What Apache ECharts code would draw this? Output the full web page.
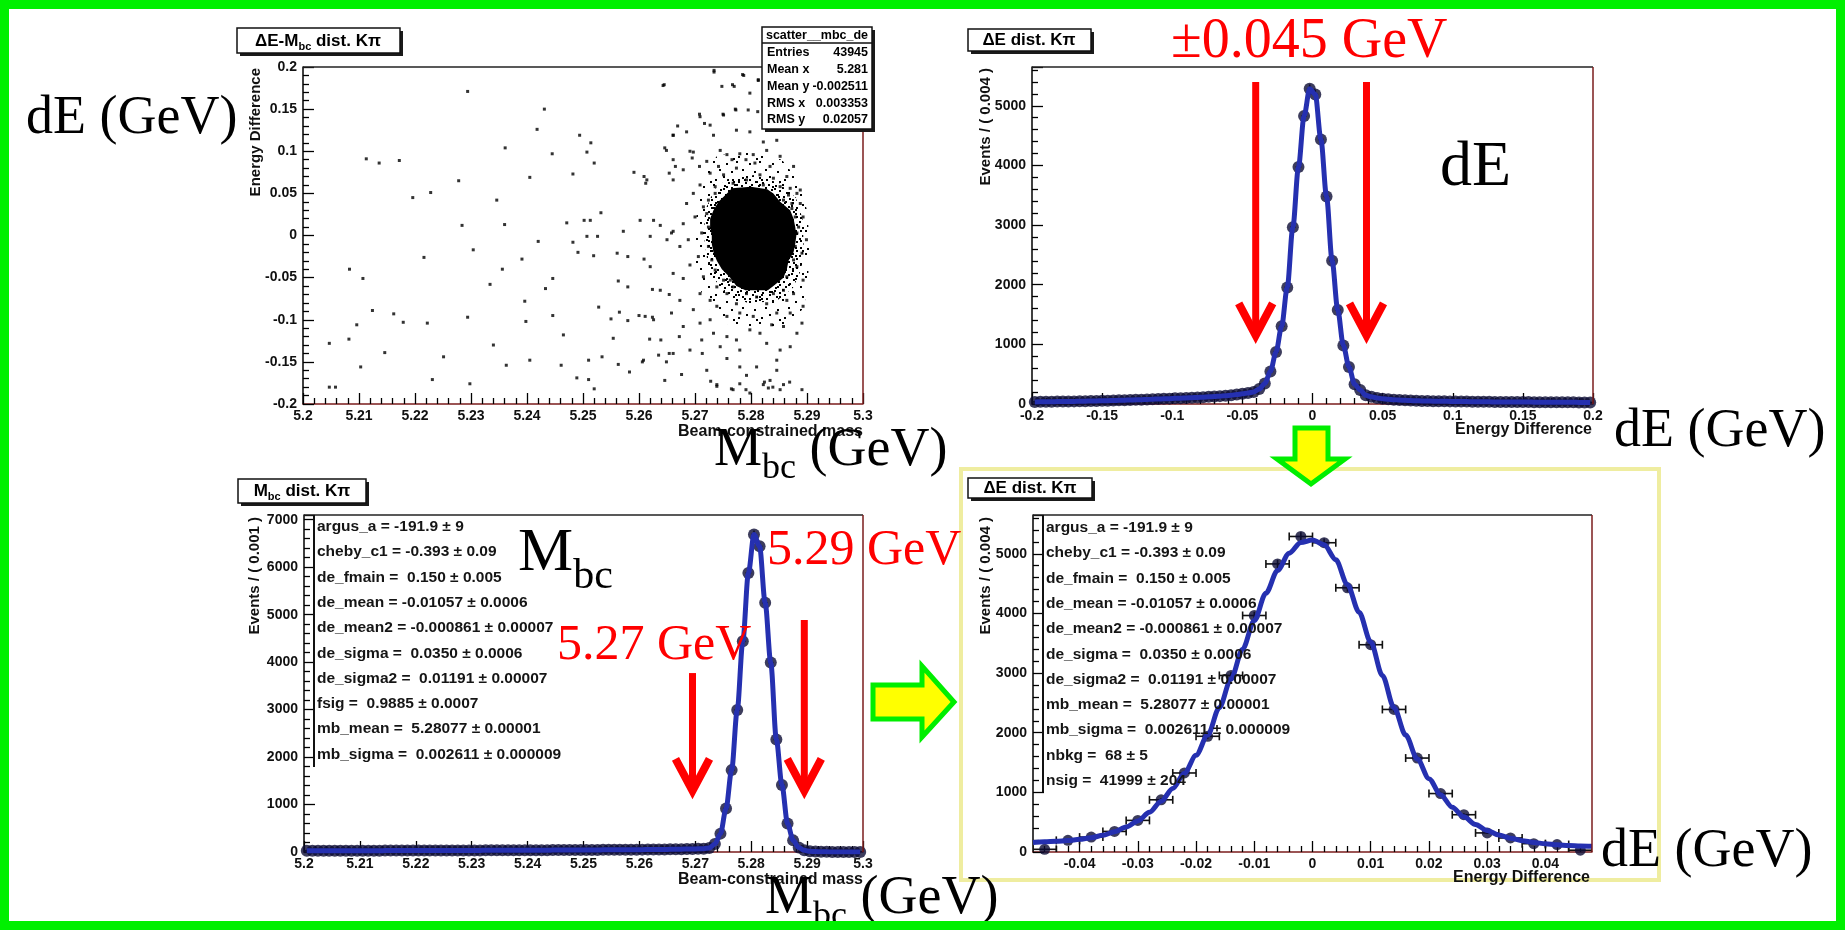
<!DOCTYPE html>
<html>
<head>
<meta charset="utf-8">
<title>dE / Mbc</title>
<script src="https://cdn.jsdelivr.net/npm/echarts@6.0.0/dist/echarts.min.js"></script>
<style>
  html, body { margin: 0; padding: 0; background: #fff; }
  #chart { width: 1845px; height: 930px; }
</style>
</head>
<body>
<div id="chart"></div>
<script>
// ---- data ----

// scatter dE vs Mbc: sparse background dots
const scatterSparse = [
  [5.2294,0.171],[5.2643,0.178],[5.2734,0.196],[5.2785,0.191],[5.2813,0.184],[5.2839,0.183],[5.2767,0.179],
  [5.2431,0.150],[5.2418,0.126],[5.2750,0.144],[5.2795,0.149],[5.2708,0.144],[5.2772,0.150],
  [5.2113,0.091],[5.2136,0.086],[5.2172,0.089],[5.2361,0.104],[5.2445,0.097],[5.2494,0.119],[5.2507,0.099],[5.2514,0.110],[5.2520,0.086],
  [5.2646,0.104],[5.2661,0.119],[5.2669,0.130],[5.2691,0.100],[5.2695,0.092],[5.2708,0.082],
  [5.2405,0.069],[5.2278,0.065],[5.2482,0.073],[5.2591,0.075],[5.2609,0.070],[5.2612,0.062],[5.2654,0.074],[5.2665,0.082],
  [5.2196,0.045],[5.2228,0.051],[5.2346,0.042],[5.2532,0.027],[5.2513,0.018],[5.2284,0.012],[5.2360,0.013],[5.2471,0.015],[5.2502,0.018],
  [5.2420,-0.007],[5.2482,-0.008],[5.2507,-0.001],[5.2526,-0.001],[5.2572,0.005],[5.2602,0.018],[5.2620,-0.001],[5.2650,-0.005],[5.2661,0.005],
  [5.2216,-0.026],[5.2304,-0.017],[5.2356,-0.040],[5.2391,-0.028],[5.2491,-0.020],[5.2519,-0.024],[5.2561,-0.021],[5.2580,-0.025],[5.2609,-0.028],
  [5.2083,-0.040],[5.2107,-0.051],[5.2334,-0.058],[5.2446,-0.051],[5.2433,-0.063],[5.2563,-0.054],[5.2580,-0.061],[5.2624,-0.064],[5.2654,-0.070],
  [5.2396,-0.078],[5.2124,-0.089],[5.2162,-0.093],[5.2096,-0.106],[5.2179,-0.103],[5.2294,-0.097],[5.2222,-0.104],[5.2398,-0.102],[5.2446,-0.095],
  [5.2528,-0.085],[5.2550,-0.099],[5.2565,-0.091],[5.2580,-0.101],[5.2600,-0.095],[5.2624,-0.097],
  [5.2047,-0.128],[5.2082,-0.123],[5.2340,-0.130],[5.2465,-0.118],[5.2554,-0.122],[5.2619,-0.123],[5.2639,-0.124],[5.2672,-0.120],
  [5.2146,-0.139],[5.2103,-0.156],[5.2251,-0.144],[5.2363,-0.154],[5.2405,-0.148],[5.2461,-0.154],[5.2510,-0.148],[5.2534,-0.144],[5.2563,-0.153],
  [5.2583,-0.162],[5.2606,-0.150],[5.2635,-0.142],[5.2654,-0.140],[5.2676,-0.165],[5.2713,-0.140],
  [5.2047,-0.180],[5.2058,-0.180],[5.2231,-0.171],[5.2298,-0.176],[5.2489,-0.169],[5.2510,-0.171],[5.2520,-0.182],[5.2646,-0.172],
  [5.2728,-0.173],[5.2739,-0.177],[5.2765,-0.182],[5.2780,-0.176],[5.2791,-0.183],[5.2824,-0.174],[5.2839,-0.180],[5.2858,-0.177],[5.2891,-0.183],[5.2869,-0.174]
];

// dots around the signal blob
const scatterHalo = [
  [5.2734,0.194],[5.2787,0.190],[5.2813,0.185],[5.2645,0.179],[5.2748,0.177],[5.2770,0.177],[5.2828,0.167],[5.2798,0.169],
  [5.2773,0.149],[5.2812,0.147],[5.2709,0.141],[5.2751,0.143],[5.2717,0.133],[5.2727,0.131],[5.2685,0.123],[5.2733,0.119],
  [5.2774,0.125],[5.2798,0.123],[5.2822,0.111],[5.2661,0.119],[5.2846,0.113],[5.2649,0.101],[5.2697,0.099],[5.2745,0.101],
  [5.2757,0.096],[5.2780,0.097],[5.2804,0.096],[5.2828,0.101],[5.2852,0.094],[5.2661,0.090],[5.2679,0.078],[5.2721,0.088],
  [5.2742,0.082],[5.2766,0.090],[5.2791,0.090],[5.2807,0.086],[5.2834,0.082],[5.2876,0.082],[5.2727,0.074],[5.2751,0.072],
  [5.2774,0.080],[5.2816,0.072],[5.2840,0.068],[5.2864,0.070],[5.2709,0.060],[5.2736,0.058],[5.2768,0.062],[5.2792,0.066],
  [5.2822,0.060],[5.2852,0.058],[5.2870,0.056],[5.2888,0.054],[5.2614,0.066],[5.2661,0.066],[5.2626,0.018],[5.2620,-0.037],
  [5.2611,-0.096],[5.2608,-0.148],[5.2697,0.050],[5.2685,0.038],[5.2715,0.034],[5.2700,0.022],[5.2679,0.014],[5.2658,0.003],
  [5.2688,-0.005],[5.2712,0.003],[5.2638,0.012],[5.2673,-0.013],[5.2706,-0.025],[5.2691,-0.035],[5.2661,-0.045],[5.2715,-0.049],
  [5.2679,-0.051],[5.2638,-0.065],[5.2709,-0.069],[5.2673,-0.077],[5.2727,-0.077],[5.2697,-0.088],[5.2739,-0.084],[5.2658,-0.092],
  [5.2626,-0.100],[5.2709,-0.104],[5.2679,-0.108],[5.2727,-0.100],[5.2757,-0.096],[5.2712,-0.124],[5.2691,-0.136],[5.2733,-0.116],
  [5.2745,-0.132],[5.2661,-0.140],[5.2649,-0.150],[5.2757,-0.146],[5.2721,-0.160],[5.2780,-0.156],[5.2792,-0.166],[5.2810,-0.156],
  [5.2834,-0.172],[5.2846,-0.160],[5.2846,-0.148],[5.2870,-0.132],[5.2882,-0.116],[5.2858,-0.108],[5.2837,-0.106],[5.2816,-0.116],
  [5.2798,-0.112],[5.2774,-0.124],[5.2828,-0.128],[5.2852,-0.136],[5.2780,-0.136],[5.2757,-0.120],[5.2888,0.038],[5.2893,0.022],
  [5.2885,0.010],[5.2899,-0.005],[5.2891,-0.021],[5.2882,-0.037],[5.2893,-0.053],[5.2876,-0.069],[5.2893,-0.084],[5.2870,-0.092],
  [5.2891,-0.104],[5.2864,-0.077],[5.2858,-0.065],[5.2840,-0.069],[5.2828,-0.081],[5.2810,-0.073],[5.2792,-0.069],[5.2774,-0.081],
  [5.2757,-0.069],[5.2780,-0.092],[5.2804,-0.096],[5.2846,-0.092],[5.2739,-0.061],[5.2763,-0.053],[5.2864,-0.049],[5.2873,0.038],
  [5.2882,0.050],[5.2867,0.048],[5.2858,0.042],[5.2736,0.050],[5.2724,0.042],[5.2721,0.026],[5.2724,0.010],[5.2724,-0.013],
  [5.2730,-0.029],[5.2736,-0.041],[5.2751,-0.053],[5.2768,-0.061],[5.2789,-0.057],[5.2819,-0.061],[5.2840,-0.057],[5.2855,-0.041],
  [5.2876,-0.029],[5.2879,-0.013],[5.2882,0.003],[5.2879,0.022],[5.2873,0.032],[5.2739,-0.179],[5.2768,-0.183],[5.2798,-0.187],
  [5.2822,-0.177],[5.2831,-0.181],[5.2852,-0.183]
];

// outline of the saturated black core
const scatterCore = [
  [5.2766,0.056],[5.2800,0.058],[5.2829,0.055],[5.2840,0.050],[5.2852,0.040],[5.2870,0.030],[5.2876,0.020],[5.2879,0.010],
  [5.2881,0.000],[5.2879,-0.010],[5.2876,-0.020],[5.2867,-0.030],[5.2864,-0.040],[5.2858,-0.050],[5.2840,-0.060],[5.2830,-0.065],
  [5.2790,-0.065],[5.2774,-0.060],[5.2763,-0.050],[5.2748,-0.040],[5.2739,-0.030],[5.2733,-0.020],[5.2730,-0.010],[5.2730,0.000],
  [5.2727,0.010],[5.2727,0.020],[5.2733,0.030],[5.2742,0.040],[5.2757,0.050]
];
// dense dotted ring around the core
const scatterDenseRing = [
  [5.2760,0.068],[5.2810,0.072],[5.2850,0.062],[5.2880,0.045],[5.2892,0.020],[5.2894,-0.010],[5.2890,-0.040],[5.2875,-0.062],
  [5.2845,-0.078],[5.2795,-0.080],[5.2760,-0.072],[5.2738,-0.055],[5.2722,-0.030],[5.2716,0.000],[5.2718,0.030],[5.2735,0.055]
];
// looser dotted halo
const scatterOuterRing = [
  [5.2740,0.095],[5.2800,0.100],[5.2855,0.090],[5.2885,0.065],[5.2900,0.030],[5.2905,-0.010],[5.2902,-0.050],[5.2895,-0.085],
  [5.2870,-0.105],[5.2820,-0.112],[5.2765,-0.108],[5.2730,-0.092],[5.2710,-0.065],[5.2700,-0.030],[5.2700,0.010],[5.2708,0.050],[5.2720,0.078]
];

// dE histogram, 100 bins of 0.004 from -0.2
const DE_BIN_START = -0.2, DE_BIN_WIDTH = 0.004;
const deHist = [
  35,36,38,38,40,41,42,44,46,47,
  50,52,54,56,58,62,64,66,70,72,
  75,80,84,87,90,95,98,102,106,110,
  115,120,126,132,140,148,158,170,185,200,
  250,345,545,872,1305,1955,2965,3975,4830,5285,
  5190,4435,3480,2400,1575,980,622,330,235,145,
  120,100,88,80,72,66,62,58,55,52,
  50,48,46,45,44,42,41,40,39,38,
  37,36,35,35,34,33,33,32,32,31,
  31,30,30,29,29,28,28,27,27,26
];

// Mbc histogram, 100 bins of 0.001 from 5.2
const MBC_BIN_START = 5.2, MBC_BIN_WIDTH = 0.001;
const mbcHist = [
  24,24,25,25,25,26,26,26,27,27,
  27,28,28,28,29,29,29,30,30,30,
  31,31,31,32,32,32,33,33,33,34,
  34,34,35,35,35,36,36,37,37,37,
  38,38,39,39,40,40,41,41,42,42,
  43,43,44,45,45,46,47,47,48,49,
  50,51,52,53,54,56,58,60,62,64,
  66,70,85,170,387,915,1725,2990,4440,5880,
  6690,6440,5250,3990,2370,1410,600,245,95,35,
  14,8,5,3,2,1,1,0,0,0
];

// dE after the Mbc cut, 24 bins of 0.004 from -0.048
const DEZ_BIN_START = -0.048, DEZ_BIN_WIDTH = 0.004;
const deZoomHist = [45,195,250,345,530,875,1325,1940,2960,3965,4830,5290,5185,4430,3475,2390,1575,980,625,320,235,140,125,30];
// fit curve, sampled every 0.002 from -0.048
const DEZ_FIT_START = -0.048, DEZ_FIT_STEP = 0.002;
const deZoomFit = [
  160,170,180,192,212,240,280,340,420,520,665,850,1065,1320,1620,1960,2420,2900,3400,3880,4340,4720,5010,5190,5230,
  5150,4900,4480,4020,3520,2960,2420,1960,1560,1230,960,750,590,460,360,285,230,190,160,138,120,108,100,95
];

// tick labels of the zoomed dE axis
const deZoomTicks = [-0.04,-0.03,-0.02,-0.01,0,0.01,0.02,0.03,0.04];
const deZoomMinorTicks = [-0.046,-0.044,-0.042,-0.038,-0.036,-0.034,-0.032,-0.028,-0.026,-0.024,-0.022,-0.018,-0.016,-0.014,-0.012,
  -0.008,-0.006,-0.004,-0.002,0.002,0.004,0.006,0.008,0.012,0.014,0.016,0.018,0.022,0.024,0.026,0.028,0.032,0.034,0.036,0.038,0.042,0.044,0.046];

// cut arrows: [x, top value, tip value]
const deCutArrows = [[-0.0405, 5400, 1150], [0.0385, 5400, 1150]];
const mbcCutArrows = [[5.2695, 3770, 1290], [5.2895, 4890, 1290]];

const statsRows = [['Entries','43945'],['Mean x','5.281'],['Mean y','-0.002511'],['RMS x','0.003353'],['RMS y','0.02057']];
const paramsMbc = [
  'argus_a = -191.9 ± 9','cheby_c1 = -0.393 ± 0.09','de_fmain =  0.150 ± 0.005','de_mean = -0.01057 ± 0.0006',
  'de_mean2 = -0.000861 ± 0.00007','de_sigma =  0.0350 ± 0.0006','de_sigma2 =  0.01191 ± 0.00007','fsig =  0.9885 ± 0.0007',
  'mb_mean =  5.28077 ± 0.00001','mb_sigma =  0.002611 ± 0.000009'
];
const paramsDe = [
  'argus_a = -191.9 ± 9','cheby_c1 = -0.393 ± 0.09','de_fmain =  0.150 ± 0.005','de_mean = -0.01057 ± 0.0006',
  'de_mean2 = -0.000861 ± 0.00007','de_sigma =  0.0350 ± 0.0006','de_sigma2 =  0.01191 ± 0.00007',
  'mb_mean =  5.28077 ± 0.00001','mb_sigma =  0.002611 ± 0.000009','nbkg =  68 ± 5','nsig =  41999 ± 204'
];

// ---- layout / style ----
const SANS = '"Liberation Sans", Arial, sans-serif';
const SERIF = '"Liberation Serif", "Times New Roman", serif';
const MAROON = '#7b1d1d';
const FIT_BLUE = '#2530b0';
const MARKER = '#0d0d35';

const grids = [
  { left: 303, top: 67, width: 560, height: 337 },
  { left: 1032, top: 67, width: 561, height: 337 },
  { left: 304, top: 515, width: 559, height: 337 },
  { left: 1033, top: 515, width: 559, height: 337 }
];

function fmt(v) { return String(+Number(v).toFixed(5)); }

const tickLine = { color: '#000', width: 1.3 };
const labelStyle = { color: '#111', fontFamily: SANS, fontWeight: 'bold', fontSize: 14 };

function xAxisCfg(gi, min, max, interval) {
  return {
    type: 'value', gridIndex: gi, min: min, max: max, interval: interval, position: 'bottom',
    axisLine: { show: true, onZero: false, lineStyle: { color: MAROON, width: 1.5 } },
    axisTick: { show: true, inside: true, length: 11, lineStyle: tickLine },
    minorTick: { show: true, splitNumber: 5, length: 6, lineStyle: tickLine },
    axisLabel: Object.assign({ margin: 5, formatter: fmt }, labelStyle),
    splitLine: { show: false }
  };
}
function yAxisCfg(gi, min, max, interval) {
  return {
    type: 'value', gridIndex: gi, min: min, max: max, interval: interval,
    axisLine: { show: true, onZero: false, lineStyle: { color: '#000', width: 1.5 } },
    axisTick: { show: true, inside: true, length: 11, lineStyle: tickLine },
    minorTick: { show: true, splitNumber: 5, length: 6, lineStyle: tickLine },
    axisLabel: Object.assign({ margin: 6, formatter: fmt, showMaxLabel: min === -0.2 }, labelStyle),
    splitLine: { show: false }
  };
}

function binPoints(start, width, values) {
  return values.map((v, i) => [start + width * (i + 0.5), v]);
}
function samplePoints(start, step, values) {
  return values.map((v, i) => [start + step * i, v]);
}

function polygonSeries(pts, fill, z) {
  return {
    type: 'custom', xAxisIndex: 0, yAxisIndex: 0, z: z, silent: true, clip: true,
    data: [pts[0]],
    renderItem: function (params, api) {
      return { type: 'polygon', shape: { points: pts.map(p => api.coord(p)) }, style: { fill: fill } };
    }
  };
}

function dotPattern(size, dots) {
  const c = document.createElement('canvas');
  c.width = size; c.height = size;
  const g = c.getContext('2d');
  g.fillStyle = '#000';
  dots.forEach(d => g.fillRect(d[0], d[1], 2, 2));
  return { image: c, repeat: 'repeat' };
}

function errorSeries(ai, data, halfWidth, caps) {
  return {
    type: 'custom', xAxisIndex: ai, yAxisIndex: ai, z: 2, silent: true, clip: true,
    data: data,
    renderItem: function (params, api) {
      const x = api.value(0), y = api.value(1), e = Math.sqrt(Math.max(y, 1));
      const l = api.coord([x - halfWidth, y]), r = api.coord([x + halfWidth, y]);
      const t = api.coord([x, y + e]), b = api.coord([x, y - e]);
      const st = { stroke: '#111', lineWidth: 1.6 };
      const kids = [
        { type: 'line', shape: { x1: l[0], y1: l[1], x2: r[0], y2: r[1] }, style: st },
        { type: 'line', shape: { x1: t[0], y1: t[1], x2: b[0], y2: b[1] }, style: st }
      ];
      if (caps) {
        kids.push({ type: 'line', shape: { x1: l[0], y1: l[1] - 4, x2: l[0], y2: l[1] + 4 }, style: st });
        kids.push({ type: 'line', shape: { x1: r[0], y1: r[1] - 4, x2: r[0], y2: r[1] + 4 }, style: st });
      }
      return { type: 'group', children: kids };
    }
  };
}
function markerSeries(ai, data, size) {
  return { type: 'scatter', xAxisIndex: ai, yAxisIndex: ai, z: 3, silent: true, symbol: 'circle', symbolSize: size,
    itemStyle: { color: MARKER }, data: data };
}
function fitSeries(ai, data) {
  return { type: 'line', xAxisIndex: ai, yAxisIndex: ai, z: 4, silent: true, smooth: 0.3, smoothMonotone: 'x',
    showSymbol: false, lineStyle: { color: FIT_BLUE, width: 5 }, data: data };
}

const dePts = binPoints(DE_BIN_START, DE_BIN_WIDTH, deHist);
const mbcPts = binPoints(MBC_BIN_START, MBC_BIN_WIDTH, mbcHist);
const deZoomPts = binPoints(DEZ_BIN_START, DEZ_BIN_WIDTH, deZoomHist);
const deZoomFitPts = samplePoints(DEZ_FIT_START, DEZ_FIT_STEP, deZoomFit);

const chart = echarts.init(document.getElementById('chart'), null, { renderer: 'canvas' });

const zoomXMajor = {
  type: 'value', gridIndex: 3, min: -0.048, max: 0.048, position: 'bottom',
  axisLine: { show: true, onZero: false, lineStyle: { color: MAROON, width: 1.5 } },
  axisTick: { show: true, inside: true, length: 11, customValues: deZoomTicks, lineStyle: tickLine },
  axisLabel: Object.assign({ margin: 5, formatter: fmt, customValues: deZoomTicks }, labelStyle),
  splitLine: { show: false }
};
const zoomXMinor = {
  type: 'value', gridIndex: 3, min: -0.048, max: 0.048, position: 'bottom',
  axisLine: { show: false },
  axisTick: { show: true, inside: true, length: 6, customValues: deZoomMinorTicks, lineStyle: tickLine },
  axisLabel: { show: false },
  splitLine: { show: false }
};

chart.setOption({
  animation: false,
  backgroundColor: '#fff',
  grid: grids,
  xAxis: [
    xAxisCfg(0, 5.2, 5.3, 0.01),
    xAxisCfg(1, -0.2, 0.2, 0.05),
    xAxisCfg(2, 5.2, 5.3, 0.01),
    zoomXMajor,
    zoomXMinor
  ],
  yAxis: [
    yAxisCfg(0, -0.2, 0.2, 0.05),
    yAxisCfg(1, 0, 5650, 1000),
    yAxisCfg(2, 0, 7100, 1000),
    yAxisCfg(3, 0, 5650, 1000)
  ],
  series: [
    polygonSeries(scatterOuterRing, dotPattern(23, [[0,0],[13,2],[6,8],[18,10],[10,15],[2,18],[20,20]]), 1),
    polygonSeries(scatterDenseRing, dotPattern(17, [[0,0],[9,1],[14,3],[4,5],[11,7],[1,9],[7,11],[14,12],[3,14],[10,15],[6,2],[13,9]]), 1),
    polygonSeries(scatterCore, '#000', 2),
    { type: 'scatter', xAxisIndex: 0, yAxisIndex: 0, z: 3, silent: true, symbol: 'rect', symbolSize: 3,
      itemStyle: { color: '#000' }, data: scatterSparse.concat(scatterHalo) },

    errorSeries(1, dePts, DE_BIN_WIDTH / 2, false),
    markerSeries(1, dePts, 12),
    fitSeries(1, dePts),

    errorSeries(2, mbcPts, MBC_BIN_WIDTH / 2, false),
    markerSeries(2, mbcPts, 12),
    fitSeries(2, mbcPts),

    errorSeries(3, deZoomPts, DEZ_BIN_WIDTH / 2, true),
    markerSeries(3, deZoomPts, 11),
    fitSeries(3, deZoomFitPts)
  ]
});

// ---- annotations ----
const mctx = document.createElement('canvas').getContext('2d');
function measure(t, font) { mctx.font = font; return mctx.measureText(t).width; }

// parts: [text, size, dy]
function textRun(x, baseline, parts, o) {
  const fam = o.family || SANS, weight = o.weight || 'normal', z = o.z || 60;
  let total = 0;
  const widths = parts.map(p => { const w = measure(p[0], weight + ' ' + p[1] + 'px ' + fam); total += w; return w; });
  let cx = o.align === 'center' ? x - total / 2 : (o.align === 'right' ? x - total : x);
  return parts.map((p, i) => {
    const el = { type: 'text', x: cx, y: baseline + (p[2] || 0) - 0.34 * p[1], z: z, silent: true,
      style: { text: p[0], fontSize: p[1], fontFamily: fam, fontWeight: weight, fill: o.color || '#000',
        align: 'left', verticalAlign: 'middle' } };
    cx += widths[i];
    return el;
  });
}

function shadowBox(x, y, w, h, z) {
  return [
    { type: 'rect', z: z, silent: true, shape: { x: x + 3, y: y + 3, width: w, height: h }, style: { fill: '#1a1a1a' } },
    { type: 'rect', z: z, silent: true, shape: { x: x, y: y, width: w, height: h }, style: { fill: '#fff', stroke: '#111', lineWidth: 1.5 } }
  ];
}

function redArrow(p0, p1) {
  const x = p0[0], top = p0[1], tip = p1[1];
  return [
    { type: 'line', z: 55, silent: true, shape: { x1: x, y1: top, x2: x, y2: tip - 5 }, style: { stroke: '#ff0000', lineWidth: 7 } },
    { type: 'polyline', z: 55, silent: true, shape: { points: [[x - 17, tip - 32], [x, tip], [x + 17, tip - 32]] },
      style: { stroke: '#ff0000', lineWidth: 8, fill: null, lineJoin: 'miter' } }
  ];
}

function rotTitle(x, yTop, text) {
  return { type: 'text', x: x, y: yTop, rotation: Math.PI / 2, z: 20, silent: true,
    style: { text: text, fontSize: 15, fontFamily: SANS, fontWeight: 'bold', fill: '#111', align: 'right', verticalAlign: 'middle' } };
}
function xTitle(xRight, y, text) {
  return { type: 'text', x: xRight, y: y, z: 20, silent: true,
    style: { text: text, fontSize: 16, fontFamily: SANS, fontWeight: 'bold', fill: '#111', align: 'right', verticalAlign: 'middle' } };
}

const els = [];

// frame borders (top dark, right maroon)
grids.forEach(g => {
  const L = g.left, T = g.top, R = g.left + g.width, B = g.top + g.height;
  els.push({ type: 'line', z: 10, silent: true, shape: { x1: L, y1: T, x2: R, y2: T }, style: { stroke: '#222', lineWidth: 1.5 } });
  els.push({ type: 'line', z: 10, silent: true, shape: { x1: R, y1: T, x2: R, y2: B }, style: { stroke: MAROON, lineWidth: 1.5 } });
});

// yellow frame around the zoomed dE plot
els.push({ type: 'rect', z: 5, silent: true, shape: { x: 961, y: 469, width: 698, height: 411 },
  style: { fill: null, stroke: '#efeda0', lineWidth: 4 } });

// histogram titles
els.push(...shadowBox(237, 28, 163, 25, 30));
els.push(...textRun(318, 47, [['ΔE-M', 17], ['bc', 11, 4], [' dist. Kπ', 17]], { weight: 'bold', align: 'center', z: 31 }));
els.push(...shadowBox(968, 29, 123, 22, 30));
els.push(...textRun(1029, 46, [['ΔE dist. Kπ', 17]], { weight: 'bold', align: 'center', z: 31 }));
els.push(...shadowBox(238, 479, 128, 24, 30));
els.push(...textRun(302, 497, [['M', 17], ['bc', 11, 4], [' dist. Kπ', 17]], { weight: 'bold', align: 'center', z: 31 }));
els.push(...shadowBox(968, 478, 124, 20, 30));
els.push(...textRun(1030, 494, [['ΔE dist. Kπ', 17]], { weight: 'bold', align: 'center', z: 31 }));

// stats box
const SB = { x: 762, y: 27, w: 110, h: 102 };
els.push(...shadowBox(SB.x, SB.y, SB.w, SB.h, 30));
els.push({ type: 'line', z: 31, silent: true, shape: { x1: SB.x, y1: SB.y + 16, x2: SB.x + SB.w, y2: SB.y + 16 }, style: { stroke: '#111', lineWidth: 1.5 } });
els.push(...textRun(SB.x + SB.w / 2, SB.y + 13, [['scatter__mbc_de', 12.5]], { weight: 'bold', align: 'center', z: 31 }));
statsRows.forEach((r, i) => {
  const base = SB.y + 30 + i * 16.8;
  els.push(...textRun(SB.x + 5, base, [[r[0], 12.5]], { weight: 'bold', z: 31 }));
  els.push(...textRun(SB.x + SB.w - 4, base, [[r[1], 12.5]], { weight: 'bold', align: 'right', z: 31 }));
});

// fit parameter lists
function paramBlock(x, firstBase, lines, lineEnd) {
  els.push({ type: 'line', z: 20, silent: true, shape: { x1: x - 3, y1: 515, x2: x - 3, y2: lineEnd }, style: { stroke: '#111', lineWidth: 2 } });
  lines.forEach((t, i) => els.push(...textRun(x, firstBase + i * 25.3, [[t, 15.5]], { weight: 'bold', color: '#151515', z: 21 })));
}
paramBlock(317, 532, paramsMbc, 767);
paramBlock(1046, 533, paramsDe, 792);

// axis titles
els.push(rotTitle(256, 68, 'Energy Difference'));
els.push(rotTitle(986, 68, 'Events / ( 0.004 )'));
els.push(rotTitle(255, 517, 'Events / ( 0.001 )'));
els.push(rotTitle(986, 517, 'Events / ( 0.004 )'));
els.push(xTitle(863, 432, 'Beam-constrained mass'));
els.push(xTitle(1592, 430, 'Energy Difference'));
els.push(xTitle(863, 880, 'Beam-constrained mass'));
els.push(xTitle(1590, 878, 'Energy Difference'));

// big slide annotations
els.push(...textRun(26, 137, [['dE (GeV)', 54]], { family: SERIF }));
els.push(...textRun(714, 469, [['M', 54], ['bc', 36, 12], [' (GeV)', 54]], { family: SERIF }));
els.push(...textRun(1171, 61, [['±0.045 GeV', 56]], { family: SERIF, color: '#ff0000' }));
els.push(...textRun(1440, 190, [['dE', 64]], { family: SERIF }));
els.push(...textRun(1614, 450, [['dE (GeV)', 54]], { family: SERIF }));
els.push(...textRun(518, 575, [['M', 62], ['bc', 42, 16]], { family: SERIF }));
els.push(...textRun(767, 568, [['5.29 GeV', 50]], { family: SERIF, color: '#ff0000' }));
els.push(...textRun(557, 663, [['5.27 GeV', 50]], { family: SERIF, color: '#ff0000' }));
els.push(...textRun(1601, 870, [['dE (GeV)', 54]], { family: SERIF }));
els.push(...textRun(765, 917, [['M', 54], ['bc', 36, 12], [' (GeV)', 54]], { family: SERIF }));

// red cut arrows, placed through the axes
deCutArrows.forEach(a => {
  const p0 = chart.convertToPixel({ xAxisIndex: 1, yAxisIndex: 1 }, [a[0], a[1]]);
  const p1 = chart.convertToPixel({ xAxisIndex: 1, yAxisIndex: 1 }, [a[0], a[2]]);
  els.push(...redArrow(p0, p1));
});
mbcCutArrows.forEach(a => {
  const p0 = chart.convertToPixel({ xAxisIndex: 2, yAxisIndex: 2 }, [a[0], a[1]]);
  const p1 = chart.convertToPixel({ xAxisIndex: 2, yAxisIndex: 2 }, [a[0], a[2]]);
  els.push(...redArrow(p0, p1));
});

// yellow block arrows
const blockStyle = { fill: '#ffff00', stroke: '#00ee00', lineWidth: 5, lineJoin: 'miter' };
els.push({ type: 'polygon', z: 70, silent: true, style: blockStyle,
  shape: { points: [[1295, 428], [1328, 428], [1328, 459], [1345, 459], [1311, 484], [1277, 459], [1295, 459]] } });
els.push({ type: 'polygon', z: 70, silent: true, style: blockStyle,
  shape: { points: [[873, 685], [922, 685], [922, 666], [954, 702], [922, 737], [922, 719], [873, 719]] } });

// outer green frame
els.push({ type: 'rect', z: 100, silent: true, shape: { x: 4.5, y: 4.5, width: 1836, height: 921 },
  style: { fill: null, stroke: '#00f000', lineWidth: 9 } });

chart.setOption({ graphic: { elements: els } });
</script>
</body>
</html>
